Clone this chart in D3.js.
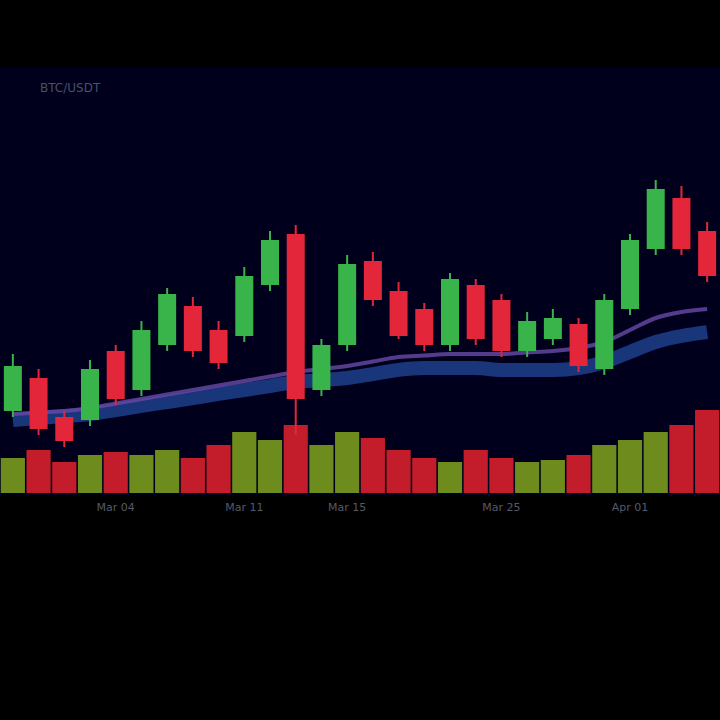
<!DOCTYPE html>
<html><head><meta charset="utf-8">
<script src="https://cdn.jsdelivr.net/npm/d3@7/dist/d3.min.js"></script>
<style>html,body{margin:0;padding:0;background:#000;}svg{display:block;}</style>
</head><body>
<svg id="chart" width="720" height="720"></svg>
<script>
const dates = ["Feb 26","Feb 27","Feb 28","Mar 01","Mar 04","Mar 05","Mar 06","Mar 07","Mar 08","Mar 11","Mar 12","Mar 13","Mar 14","Mar 15","Mar 18","Mar 19","Mar 20","Mar 21","Mar 22","Mar 25","Mar 26","Mar 27","Mar 28","Mar 29","Apr 01","Apr 02","Apr 03","Apr 04"];
const openVals  = [113,124,111,110,133,120,135,148,140,138,155,172,120,135,163,153,147,135,155,150,133,137,142,127,147,167,184,173];
const highVals  = [132,127,113,130,135,143,154,151,143,161,173,175,137,165,166,156,149,159,157,152,146,147,144,152,172,190,188,176];
const lowVals   = [111,105,101,108,115,118,133,131,127,136,153,105,118,133,148,137,133,133,135,131,131,135,126,125,145,165,165,156];
const closeVals = [128,107,103,127,117,140,152,133,129,158,170,117,135,162,150,138,135,157,137,133,143,144,128,150,170,187,167,158];
const volumeVals = [70,86,62,76,82,76,86,70,96,122,106,136,96,122,110,86,70,62,86,70,62,66,76,96,106,122,136,166];
const maSlow = [110,110.7,111.3,112,113.3,114.7,116,117.3,118.7,120,121.3,122.7,123.3,124,125.3,126.7,127.3,127.3,127.3,126.7,126.7,126.7,127.3,129.3,132.7,136,138,139.3];
const maFast = [112,112.5,113,114,115.5,117,118.5,120,121.5,123,124.5,126,127,128,129.5,131,131.5,132,132,132,132.5,133,134,136,140,144,146,147];
const tickIdx = [4,9,13,19,24];
const title = "BTC/USDT";

const W = 720, H = 720;
const svg = d3.select("#chart");
const plotTop = 68, plotBottom = 495;

svg.append("rect").attr("x",0).attr("y",0).attr("width",W).attr("height",H).attr("fill","#000");
svg.append("rect").attr("x",0).attr("y",plotTop).attr("width",W).attr("height",plotBottom-plotTop).attr("fill","#00001c");

const idx = d3.range(dates.length);
const x = d3.scaleBand().domain(idx).range([0, W]).paddingInner(0.3).paddingOuter(0.15);
const y = d3.scaleLinear().domain([100, 200]).range([450, 150]);
const yv = d3.scaleLinear().domain([0, 170]).range([493, 408]);

const up = "#38b44a", down = "#e3263a";
const data = idx.map(i => ({i, o: openVals[i], h: highVals[i], l: lowVals[i], c: closeVals[i], v: volumeVals[i]}));

// volume
svg.append("g").selectAll("rect").data(data).join("rect")
  .attr("x", d => x(d.i) - x.step()*0.12)
  .attr("width", x.bandwidth() + x.step()*0.24)
  .attr("y", d => yv(d.v))
  .attr("height", d => yv(0) - yv(d.v))
  .attr("fill", d => d.c >= d.o ? "#7a9a1e" : "#d8202e")
  .attr("opacity", 0.9);

// moving averages
const line = arr => d3.line().x((d,i) => x(i) + x.bandwidth()/2).y(d => y(d)).curve(d3.curveMonotoneX)(arr);
svg.append("path").attr("d", line(maSlow)).attr("fill","none").attr("stroke","#1c3c86").attr("stroke-width",14).attr("opacity",0.9);
svg.append("path").attr("d", line(maFast)).attr("fill","none").attr("stroke","#6a4aa8").attr("stroke-width",4).attr("opacity",0.8);

// candles
const g = svg.append("g");
g.selectAll("line").data(data).join("line")
  .attr("x1", d => x(d.i) + x.bandwidth()/2).attr("x2", d => x(d.i) + x.bandwidth()/2)
  .attr("y1", d => y(d.h)).attr("y2", d => y(d.l))
  .attr("stroke", d => d.c >= d.o ? up : down).attr("stroke-width", 2);
g.selectAll("rect").data(data).join("rect")
  .attr("x", d => x(d.i)).attr("width", x.bandwidth())
  .attr("y", d => y(Math.max(d.o, d.c)))
  .attr("height", d => Math.max(1, Math.abs(y(d.o) - y(d.c))))
  .attr("fill", d => d.c >= d.o ? up : down);

// x axis labels
const xAxis = d3.axisBottom(x).tickValues(tickIdx).tickFormat(i => dates[i]).tickSize(0).tickPadding(8);
const ax = svg.append("g").attr("transform", `translate(0,${plotBottom})`).call(xAxis);
ax.select(".domain").remove();
ax.selectAll("text").attr("fill","#555a66").attr("font-family","DejaVu Sans, sans-serif").attr("font-size",11);

// title
svg.append("text").attr("x", 40).attr("y", 92).attr("fill","#4a5068")
  .attr("font-family","DejaVu Sans, sans-serif").attr("font-size",12).text(title);
</script>
</body></html>
